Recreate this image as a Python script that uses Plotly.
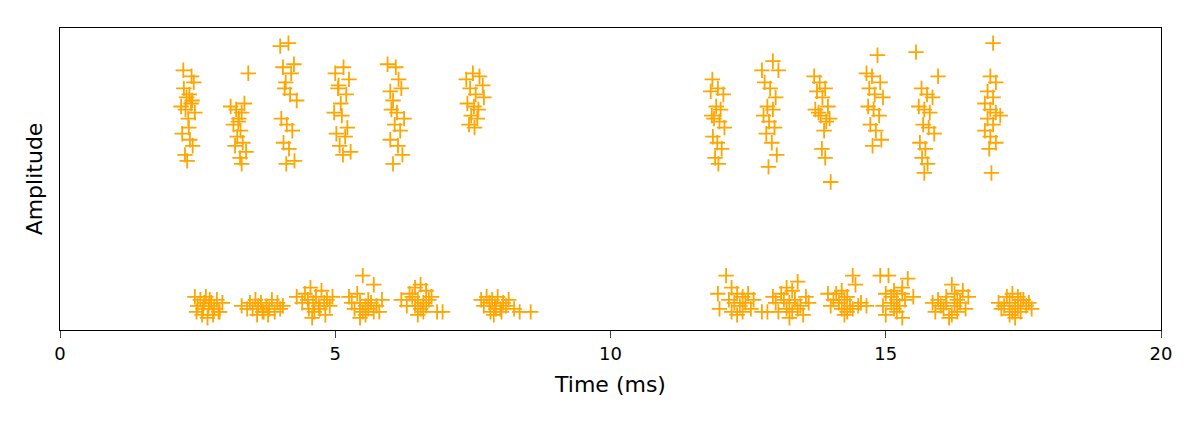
import plotly.graph_objects as go

# top bursts (amplitude ~0.5-0.95)
t1_x = [2.25,2.35,2.40,2.20,2.30,2.38,2.28,2.45,2.33,2.22,2.36,2.41,2.27,2.31,2.39,2.24,2.43,2.34]
t1_y = [0.80,0.78,0.76,0.74,0.77,0.75,0.73,0.72,0.70,0.65,0.63,0.61,0.58,0.56,0.84,0.86,0.82,0.67]
t2_x = [3.10,3.20,3.30,3.25,3.35,3.15,3.28,3.22,3.32,3.18,3.38,3.27,3.30,3.42,3.24]
t2_y = [0.74,0.73,0.72,0.70,0.75,0.68,0.66,0.64,0.62,0.61,0.59,0.57,0.55,0.85,0.69]
t3_x = [4.00,4.15,4.05,4.25,4.10,4.20,4.08,4.18,4.30,4.02,4.12,4.22,4.06,4.16,4.26,4.11]
t3_y = [0.94,0.95,0.87,0.88,0.82,0.85,0.80,0.78,0.76,0.70,0.68,0.66,0.62,0.60,0.56,0.55]
t4_x = [5.00,5.15,5.25,5.05,5.20,5.10,4.98,5.12,5.22,5.02,5.18,5.08,5.28,5.14,5.06]
t4_y = [0.85,0.87,0.83,0.80,0.78,0.75,0.72,0.71,0.67,0.65,0.64,0.61,0.59,0.58,0.81]
t5_x = [5.95,6.10,6.00,6.15,6.05,6.20,6.02,6.12,6.25,6.08,6.18,6.00,6.14,6.22,6.05]
t5_y = [0.88,0.87,0.79,0.83,0.76,0.80,0.73,0.72,0.70,0.68,0.66,0.63,0.61,0.58,0.55]
t6_x = [7.38,7.50,7.62,7.45,7.55,7.68,7.40,7.52,7.60,7.47,7.58,7.70,7.43,7.53]
t6_y = [0.83,0.85,0.84,0.80,0.78,0.81,0.75,0.74,0.73,0.71,0.70,0.77,0.68,0.67]
t7_x = [11.85,11.95,12.05,11.82,11.92,12.00,11.88,11.98,12.07,11.86,11.94,12.02,11.90,11.96,11.84]
t7_y = [0.83,0.80,0.78,0.79,0.74,0.73,0.70,0.69,0.67,0.64,0.62,0.60,0.57,0.55,0.71]
t8_x = [12.75,12.95,13.05,12.80,12.90,13.00,12.85,12.95,12.78,12.88,12.98,12.83,12.93,13.02,12.87]
t8_y = [0.86,0.89,0.86,0.82,0.80,0.77,0.74,0.73,0.71,0.69,0.67,0.65,0.62,0.58,0.54]
t9_x = [13.70,13.80,13.90,13.75,13.85,13.95,13.72,13.82,13.92,13.78,13.88,13.98,13.84,13.90,14.00]
t9_y = [0.84,0.82,0.80,0.79,0.77,0.74,0.73,0.71,0.69,0.72,0.66,0.70,0.60,0.57,0.49]
t10_x = [14.85,14.65,14.75,14.90,14.70,14.80,14.95,14.68,14.78,14.88,14.72,14.82,14.92,14.76]
t10_y = [0.91,0.85,0.84,0.82,0.80,0.78,0.77,0.74,0.73,0.71,0.68,0.66,0.63,0.61]
t11_x = [15.55,15.95,15.65,15.75,15.85,15.60,15.70,15.80,15.68,15.78,15.88,15.62,15.72,15.66,15.76,15.70]
t11_y = [0.92,0.84,0.80,0.78,0.77,0.74,0.73,0.72,0.68,0.67,0.65,0.62,0.60,0.57,0.55,0.52]
t12_x = [16.95,16.90,17.00,16.85,16.95,16.80,16.90,17.00,16.85,16.95,17.08,16.80,16.90,17.00,16.88,16.92]
t12_y = [0.95,0.84,0.82,0.79,0.77,0.75,0.73,0.72,0.70,0.68,0.71,0.66,0.64,0.62,0.60,0.52]

# bottom bursts (amplitude ~0.04-0.18)
b1_x = [2.45,2.55,2.65,2.75,2.85,2.95,2.50,2.60,2.70,2.80,2.90,2.48,2.58,2.68,2.78,2.88,2.62,2.72]
b1_y = [0.11,0.10,0.11,0.09,0.10,0.09,0.08,0.07,0.08,0.07,0.06,0.06,0.05,0.04,0.05,0.06,0.09,0.10]
b2_x = [3.30,3.45,3.55,3.65,3.75,3.85,3.95,4.05,3.40,3.50,3.60,3.70,3.80,3.90,4.00,3.58,3.68,3.78]
b2_y = [0.08,0.09,0.10,0.09,0.08,0.10,0.09,0.08,0.07,0.07,0.08,0.06,0.07,0.06,0.07,0.05,0.06,0.05]
b3_x = [4.30,4.45,4.55,4.65,4.75,4.85,4.95,4.40,4.50,4.60,4.70,4.80,4.90,4.52,4.62,4.72,4.82,4.58]
b3_y = [0.11,0.12,0.14,0.11,0.13,0.10,0.11,0.09,0.10,0.09,0.08,0.09,0.08,0.07,0.06,0.07,0.05,0.04]
b4_x = [5.25,5.40,5.50,5.60,5.70,5.85,5.30,5.45,5.55,5.65,5.75,5.35,5.50,5.60,5.70,5.55,5.45,5.80]
b4_y = [0.11,0.12,0.18,0.10,0.15,0.10,0.09,0.09,0.08,0.09,0.08,0.07,0.06,0.07,0.06,0.05,0.04,0.06]
b5_x = [6.20,6.35,6.45,6.55,6.65,6.75,6.40,6.50,6.60,6.70,6.30,6.45,6.55,6.65,6.85,6.50,6.60,6.95]
b5_y = [0.10,0.12,0.14,0.15,0.13,0.11,0.11,0.10,0.09,0.10,0.08,0.08,0.07,0.08,0.06,0.05,0.06,0.06]
b6_x = [7.65,7.75,7.85,7.95,8.05,8.15,7.70,7.80,7.90,8.00,8.10,8.25,7.82,7.92,8.02,8.35,8.55,7.88]
b6_y = [0.10,0.11,0.10,0.11,0.09,0.10,0.08,0.09,0.08,0.07,0.08,0.07,0.06,0.07,0.06,0.06,0.06,0.05]
b7_x = [11.95,12.10,12.20,12.30,12.40,12.50,12.60,12.15,12.25,12.35,12.45,12.55,11.98,12.20,12.30,12.40,12.75,12.85]
b7_y = [0.12,0.18,0.14,0.12,0.11,0.12,0.10,0.10,0.09,0.08,0.09,0.07,0.07,0.06,0.05,0.06,0.06,0.06]
b8_x = [12.95,13.10,13.20,13.30,13.40,13.55,13.00,13.15,13.25,13.35,13.45,13.60,13.05,13.20,13.30,13.40,13.50,13.25]
b8_y = [0.11,0.12,0.14,0.13,0.16,0.11,0.09,0.10,0.09,0.10,0.08,0.09,0.06,0.07,0.06,0.07,0.05,0.04]
b9_x = [13.95,14.10,14.20,14.30,14.40,14.45,14.05,14.15,14.25,14.35,14.55,14.00,14.20,14.30,14.40,14.50,14.65,14.25]
b9_y = [0.12,0.12,0.13,0.11,0.18,0.15,0.10,0.09,0.10,0.08,0.09,0.08,0.07,0.06,0.07,0.08,0.08,0.05]
b10_x = [14.90,15.05,15.00,15.15,15.30,15.40,15.10,15.20,15.30,15.50,14.95,15.10,15.25,15.35,15.00,15.20,15.30,15.15]
b10_y = [0.18,0.18,0.12,0.13,0.14,0.17,0.11,0.10,0.12,0.11,0.08,0.09,0.08,0.10,0.05,0.06,0.04,0.07]
b11_x = [15.85,15.95,16.10,16.20,16.30,16.40,16.50,16.00,16.10,16.25,16.35,16.45,15.90,16.05,16.20,16.30,16.15,16.25]
b11_y = [0.09,0.10,0.11,0.15,0.10,0.13,0.11,0.08,0.09,0.08,0.09,0.07,0.06,0.07,0.05,0.06,0.04,0.12]
b12_x = [17.05,17.20,17.30,17.40,17.50,17.60,17.15,17.25,17.35,17.45,17.55,17.10,17.30,17.40,17.25,17.35,17.45,17.65]
b12_y = [0.09,0.11,0.12,0.11,0.10,0.09,0.08,0.09,0.08,0.10,0.08,0.07,0.06,0.07,0.05,0.04,0.06,0.07]

xs = t1_x+t2_x+t3_x+t4_x+t5_x+t6_x+t7_x+t8_x+t9_x+t10_x+t11_x+t12_x + \
     b1_x+b2_x+b3_x+b4_x+b5_x+b6_x+b7_x+b8_x+b9_x+b10_x+b11_x+b12_x
ys = t1_y+t2_y+t3_y+t4_y+t5_y+t6_y+t7_y+t8_y+t9_y+t10_y+t11_y+t12_y + \
     b1_y+b2_y+b3_y+b4_y+b5_y+b6_y+b7_y+b8_y+b9_y+b10_y+b11_y+b12_y

fig = go.Figure(go.Scatter(
    x=xs, y=ys, mode="markers",
    marker=dict(symbol="cross-thin", size=11, line=dict(color="#FFA500", width=1.8), color="#FFA500"),
))
fig.update_layout(
    width=1200, height=427, margin=dict(l=52, r=47, t=20, b=105, autoexpand=False),
    plot_bgcolor="white", paper_bgcolor="white", showlegend=False,
    font=dict(family="DejaVu Sans", size=18, color="black"),
)
fig.update_xaxes(range=[0, 20], tickvals=[0, 5, 10, 15, 20], ticks="outside", ticklen=7,
                 tickfont=dict(size=18),
                 showgrid=False, zeroline=False, showline=True, linecolor="black", mirror=True,
                 automargin=False, title=dict(text="Time (ms)", standoff=14))
fig.update_yaxes(range=[0, 1], showticklabels=False, showgrid=False, zeroline=False,
                 showline=True, linecolor="black", mirror=True, automargin=False,
                 title=dict(text="Amplitude", standoff=10))
fig.write_html("out.html")
